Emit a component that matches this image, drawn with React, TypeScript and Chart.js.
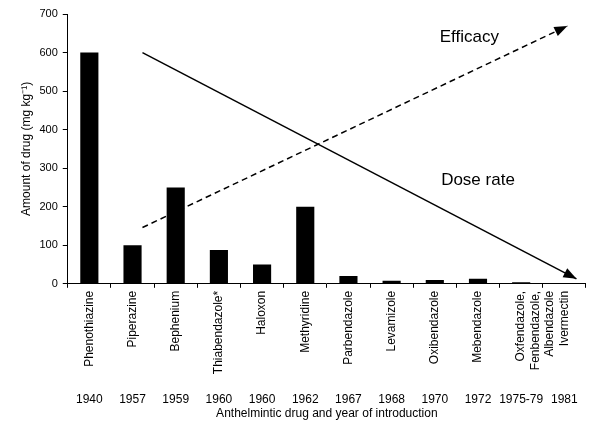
import React, { useEffect, useRef } from "react";
import { Chart, registerables } from "chart.js";

Chart.register(...registerables);

const drugNames: (string | string[])[] = [
  "Phenothiazine",
  "Piperazine",
  "Bephenium",
  "Thiabendazole*",
  "Haloxon",
  "Methyridine",
  "Parbendazole",
  "Levamizole",
  "Oxibendazole",
  "Mebendazole",
  ["Oxfendazole,", "Fenbendazole,", "Albendazole"],
  "Ivermectin",
];
const years = ["1940", "1957", "1959", "1960", "1960", "1962", "1967", "1968", "1970", "1972", "1975-79", "1981"];
const doseValues = [600, 100, 250, 88, 50, 200, 20, 8, 10, 13, 4, 1];
const doseRateTrend = [
  { x: 1.23, y: 600 },
  { x: 11.28, y: 13 },
];
const efficacyTrend = [
  { x: 1.23, y: 146 },
  { x: 11.07, y: 669 },
];
const notes = [
  { text: "Efficacy", x: 8.8, y: 640 },
  { text: "Dose rate", x: 9.0, y: 268 },
];
const yTitle = "Amount of drug (mg kg\u207B\u00B9)";
const xTitle = "Anthelmintic drug and year of introduction";

const FONT = "'Liberation Sans', Arial, Helvetica, sans-serif";

const arrowPlugin = {
  id: "arrowHeads",
  afterDatasetsDraw(chart: any) {
    const ctx = chart.ctx;
    chart.data.datasets.forEach((ds: any, i: number) => {
      if (!ds.arrow) return;
      const pts = chart.getDatasetMeta(i).data;
      if (pts.length < 2) return;
      const a = pts[pts.length - 2];
      const b = pts[pts.length - 1];
      const ang = Math.atan2(b.y - a.y, b.x - a.x);
      const L = 13;
      const W = 5;
      const c = Math.cos(ang);
      const s = Math.sin(ang);
      ctx.save();
      ctx.fillStyle = "#000";
      ctx.beginPath();
      ctx.moveTo(b.x, b.y);
      ctx.lineTo(b.x - L * c + W * s, b.y - L * s - W * c);
      ctx.lineTo(b.x - L * c - W * s, b.y - L * s + W * c);
      ctx.closePath();
      ctx.fill();
      ctx.restore();
    });
  },
};

const notesPlugin = {
  id: "textNotes",
  afterDatasetsDraw(chart: any) {
    const ctx = chart.ctx;
    const xs = chart.scales.xl;
    const ys = chart.scales.y;
    ctx.save();
    ctx.fillStyle = "#000";
    ctx.font = `17px ${FONT}`;
    ctx.textAlign = "center";
    ctx.textBaseline = "middle";
    notes.forEach((n) => {
      ctx.fillText(n.text, xs.getPixelForValue(n.x), ys.getPixelForValue(n.y));
    });
    ctx.restore();
  },
};

export default function App() {
  const ref = useRef<HTMLCanvasElement>(null);

  useEffect(() => {
    if (!ref.current) return;
    Chart.defaults.font.family = FONT;
    Chart.defaults.color = "#000";
    const chart = new Chart(ref.current, {
      type: "bar",
      data: {
        labels: drugNames as any,
        datasets: [
          {
            type: "bar",
            data: doseValues,
            xAxisID: "x",
            yAxisID: "y",
            backgroundColor: "#000",
            borderWidth: 0,
            grouped: false,
            categoryPercentage: 1,
            barPercentage: 0.42,
            order: 1,
          },
          {
            type: "line",
            data: doseRateTrend as any,
            xAxisID: "xl",
            yAxisID: "y",
            borderColor: "#000",
            borderWidth: 1.5,
            pointRadius: 0,
            fill: false,
            order: 0,
            arrow: true,
          } as any,
          {
            type: "line",
            data: efficacyTrend as any,
            xAxisID: "xl",
            yAxisID: "y",
            borderColor: "#000",
            borderWidth: 1.5,
            borderDash: [6, 4],
            pointRadius: 0,
            fill: false,
            order: 0,
            arrow: true,
          } as any,
        ],
      },
      plugins: [arrowPlugin, notesPlugin],
      options: {
        responsive: false,
        animation: false,
        layout: { padding: { left: 19, right: 5, top: 14, bottom: 4 } },
        plugins: {
          legend: { display: false },
          tooltip: { enabled: false },
        },
        scales: {
          x: {
            type: "category",
            position: "bottom",
            offset: true,
            grid: {
              display: true,
              offset: true,
              drawOnChartArea: false,
              drawTicks: true,
              tickLength: 4,
              color: "#000",
            },
            border: { display: true, color: "#000", width: 1 },
            ticks: {
              autoSkip: false,
              minRotation: 90,
              maxRotation: 90,
              padding: 3,
              font: { size: 12 },
              color: "#000",
            },
          },
          x2: {
            type: "category",
            position: "bottom",
            labels: years,
            offset: true,
            grid: { display: false, drawTicks: false },
            border: { display: false },
            ticks: { autoSkip: false, maxRotation: 0, minRotation: 0, padding: 15, font: { size: 12 }, color: "#000" },
            title: { display: true, text: xTitle, font: { size: 12 }, color: "#000", padding: { top: -15, bottom: 0 } },
          },
          xl: {
            type: "linear",
            display: false,
            offset: false,
            min: -0.5,
            max: 11.5,
          },
          y: {
            type: "linear",
            min: 0,
            max: 700,
            ticks: { stepSize: 100, font: { size: 11 }, color: "#000", padding: 5 },
            grid: {
              display: true,
              drawOnChartArea: false,
              drawTicks: true,
              tickLength: 5,
              color: "#000",
            },
            border: { display: true, color: "#000", width: 1 },
            title: { display: true, text: yTitle, font: { size: 12 }, color: "#000", padding: { top: 0, bottom: 1 } },
          },
        },
      },
    } as any);
    return () => chart.destroy();
  }, []);

  return (
    <div style={{ position: "absolute", left: 0, top: 0, width: 593, height: 425, background: "#fff" }}>
      <canvas ref={ref} width={593} height={425} />
    </div>
  );
}
